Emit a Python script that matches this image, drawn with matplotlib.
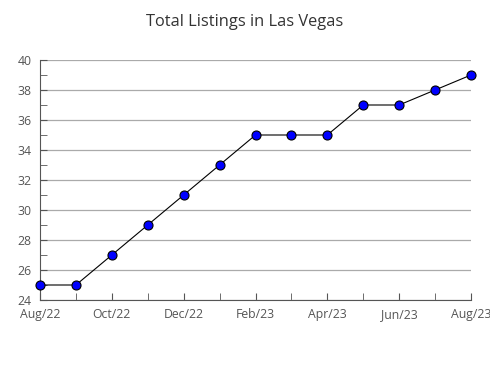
import matplotlib
matplotlib.use("Agg")
import matplotlib.pyplot as plt
from matplotlib.ticker import MultipleLocator

months = ["Aug/22", "Sep/22", "Oct/22", "Nov/22", "Dec/22", "Jan/23", "Feb/23",
          "Mar/23", "Apr/23", "May/23", "Jun/23", "Jul/23", "Aug/23"]
listings = [25, 25, 27, 29, 31, 33, 35, 35, 35, 37, 37, 38, 39]

plt.rcParams['font.family'] = ['Open Sans', 'DejaVu Sans']

fig = plt.figure(figsize=(4.9, 3.8), dpi=100)
ax = fig.add_axes([40/490, 1 - 300/380, (471 - 40)/490, (300 - 60)/380])

x = list(range(len(months)))
ax.plot(x, listings, color='black', lw=0.8, marker='o', markersize=6.5,
        markerfacecolor='#0000ff', markeredgecolor='black', markeredgewidth=0.8, zorder=3,
        clip_on=False)

ax.set_xlim(0, len(months) - 1)
ax.set_ylim(24, 40)
ax.yaxis.set_major_locator(MultipleLocator(2))
ax.yaxis.set_minor_locator(MultipleLocator(1))
ax.set_xticks(x, minor=True)
ax.set_xticks(x[::2])
ax.set_xticklabels(months[::2])

ax.grid(axis='y', which='major', color='#aaaaaa', lw=0.9)
ax.set_axisbelow(True)
for s in ['top', 'right']:
    ax.spines[s].set_visible(False)
for s in ['left', 'bottom']:
    ax.spines[s].set_color('#555555')
ax.tick_params(axis='both', which='both', direction='in', colors='#555555',
               labelcolor='#555555', labelsize=8.8)
ax.tick_params(axis='both', which='major', length=5)
ax.tick_params(axis='both', which='minor', length=5)
ax.tick_params(axis='x', pad=5.5)
ax.tick_params(axis='y', pad=6)

fig.suptitle("Total Listings in Las Vegas", y=1 - 14/380, fontsize=11.8, color='#333333')
fig.savefig("out.png", dpi=100)
